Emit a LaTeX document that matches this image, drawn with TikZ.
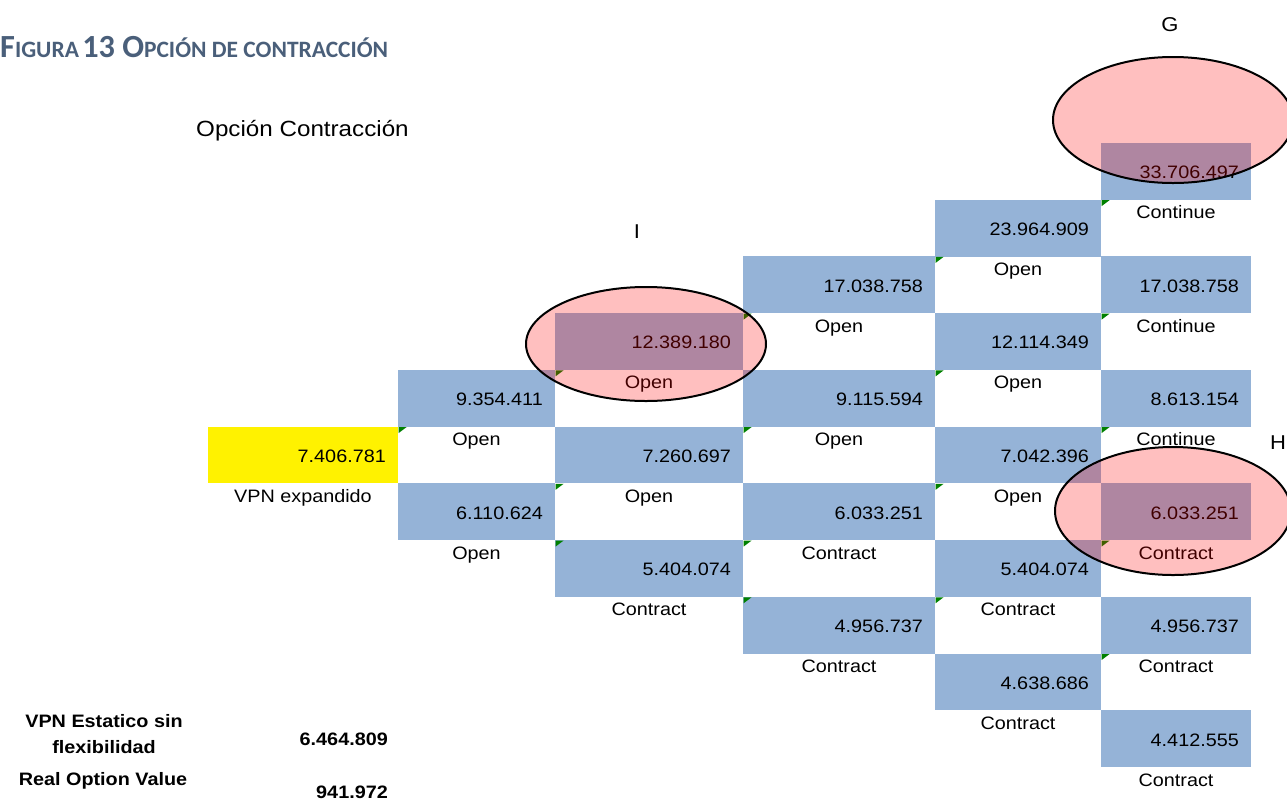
\documentclass[tikz,border=0pt]{standalone}
\usepackage{fontspec}
\usepackage{graphicx}
\setmainfont{Liberation Sans}
\newfontfamily\cellfont{Liberation Sans}[FakeStretch=1.1]
\newfontfamily\titlefont{Carlito}
\usetikzlibrary{calc,shapes.geometric}
\definecolor{cellblue}{HTML}{95B3D7}
\definecolor{titlecol}{HTML}{4A5F7A}
\definecolor{trigreen}{HTML}{008000}
\tikzset{
  cellbox/.style={rectangle, inner sep=0pt, outer sep=0pt, minimum height=56.8pt, anchor=north west},
  numtxt/.style={font=\cellfont\fontsize{18}{20}\selectfont, inner sep=0pt, anchor=base east},
  labtxt/.style={font=\cellfont\fontsize{18}{20}\selectfont, inner sep=0pt, anchor=base},
  boldtxt/.style={font=\cellfont\bfseries\fontsize{18}{20}\selectfont, inner sep=0pt},
  lettertxt/.style={font=\cellfont\fontsize{20}{22}\selectfont, inner sep=0pt},
  hilite/.style={ellipse, draw=black, line width=2pt, fill=red, fill opacity=0.25, inner sep=0pt},
  gtri/.style={fill=trigreen}
}
\newcommand\mycell[7]{%
  \node[cellbox, fill=#7, minimum width=#3pt] (#1) at (#2,{143+56.73*#4}) {};
  \node[numtxt] (#1n) at ($(#1.south east)+(-12,-21)$) {#5};
  \node[labtxt] (#1l) at ($(#1.south)+(0,19)$) {#6};
}
\newcommand\greentri[2]{%
  \fill[gtri] (#1+0.5,{143+56.73*#2+0.5}) -- ++(8,0) -- ++(-8,6) -- cycle;
}
\begin{document}
\begin{tikzpicture}[x=1pt,y=-1pt]
\useasboundingbox (0,0) rectangle (1287,801);
% title
\node[anchor=base west, inner sep=0pt, text=titlecol] (title) at (0,57)
  {\resizebox{388pt}{!}{\titlefont\bfseries{\fontsize{22}{24}\selectfont F}{\fontsize{16}{18}\selectfont IGURA} {\fontsize{22}{24}\selectfont 13 O}{\fontsize{16}{18}\selectfont PCIÓN DE CONTRACCIÓN}}};
\node[anchor=west, inner sep=0pt, font=\cellfont\fontsize{22}{24}\selectfont] (sub) at (196,131) {Opción Contracción};
% cells
\mycell{y0}{208}{190}{5}{7.406.781}{VPN expandido}{yellow}
\mycell{a1}{398}{157}{4}{9.354.411}{Open}{cellblue}
\mycell{a2}{398}{157}{6}{6.110.624}{Open}{cellblue}
\mycell{b1}{555}{188}{3}{12.389.180}{Open}{cellblue}
\mycell{b2}{555}{188}{5}{7.260.697}{Open}{cellblue}
\mycell{b3}{555}{188}{7}{5.404.074}{Contract}{cellblue}
\mycell{c1}{743}{192}{2}{17.038.758}{Open}{cellblue}
\mycell{c2}{743}{192}{4}{9.115.594}{Open}{cellblue}
\mycell{c3}{743}{192}{6}{6.033.251}{Contract}{cellblue}
\mycell{c4}{743}{192}{8}{4.956.737}{Contract}{cellblue}
\mycell{d1}{935}{166}{1}{23.964.909}{Open}{cellblue}
\mycell{d2}{935}{166}{3}{12.114.349}{Open}{cellblue}
\mycell{d3}{935}{166}{5}{7.042.396}{Open}{cellblue}
\mycell{d4}{935}{166}{7}{5.404.074}{Contract}{cellblue}
\mycell{d5}{935}{166}{9}{4.638.686}{Contract}{cellblue}
\mycell{e1}{1101}{150}{0}{33.706.497}{Continue}{cellblue}
\mycell{e2}{1101}{150}{2}{17.038.758}{Continue}{cellblue}
\mycell{e3}{1101}{150}{4}{8.613.154}{Continue}{cellblue}
\mycell{e4}{1101}{150}{6}{6.033.251}{Contract}{cellblue}
\mycell{e5}{1101}{150}{8}{4.956.737}{Contract}{cellblue}
\mycell{e6}{1101}{150}{10}{4.412.555}{Contract}{cellblue}
% green indicators
\greentri{398}{5}
\greentri{555}{4}\greentri{555}{6}\greentri{555}{7}
\greentri{743}{3}\greentri{743}{5}\greentri{743}{7}\greentri{743}{8}
\greentri{935}{2}\greentri{935}{4}\greentri{935}{6}\greentri{935}{8}
\greentri{1101}{1}\greentri{1101}{3}\greentri{1101}{5}\greentri{1101}{7}\greentri{1101}{9}
% highlight ellipses
\node[hilite, minimum width=240pt, minimum height=114pt] (ellI) at (646,344) {};
\node[hilite, minimum width=240pt, minimum height=126pt] (ellG) at (1173,120) {};
\node[hilite, minimum width=236pt, minimum height=128pt] (ellH) at (1173,511) {};
\node[lettertxt] (lG) at (1170,25) {G};
\node[lettertxt] (lH) at (1278,443) {H};
\node[lettertxt] (lI) at (637,232) {I};
% bottom summary
\node[boldtxt, anchor=base] (s1) at (104,727) {VPN Estatico sin};
\node[boldtxt, anchor=base] (s2) at (104,753) {flexibilidad};
\node[boldtxt, anchor=base east] (s3) at (388,745) {6.464.809};
\node[boldtxt, anchor=base] (s4) at (103,785) {Real Option Value};
\node[boldtxt, anchor=base east] (s5) at (388,798) {941.972};
\end{tikzpicture}
\end{document}
